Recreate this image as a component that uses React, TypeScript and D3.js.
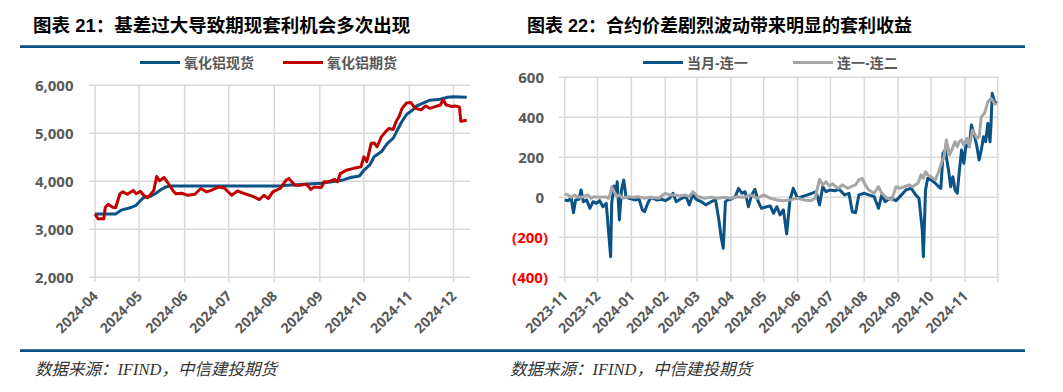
import React from "react"
import * as d3 from "d3"

// 图表21：氧化铝现货 / 期货
const spotDates = ["2024-04-01","2024-04-15","2024-04-19","2024-04-26","2024-04-29","2024-05-02","2024-05-04","2024-05-09","2024-05-12","2024-05-16","2024-05-19","2024-05-22","2024-08-06","2024-08-10","2024-09-02","2024-09-16","2024-09-22","2024-09-28","2024-10-01","2024-10-05","2024-10-08","2024-10-13","2024-10-17","2024-10-21","2024-10-24","2024-10-27","2024-10-30","2024-11-03","2024-11-06","2024-11-11","2024-11-15","2024-11-22","2024-11-27","2024-12-01","2024-12-10"]
const spotValues = [3320,3320,3400,3460,3500,3600,3660,3690,3740,3830,3880,3900,3900,3920,3960,4020,4080,4110,4230,4340,4510,4620,4790,4900,5080,5250,5390,5480,5570,5640,5690,5710,5750,5760,5750]

const futDates = ["2024-04-01","2024-04-03","2024-04-07","2024-04-08","2024-04-10","2024-04-13","2024-04-15","2024-04-18","2024-04-20","2024-04-23","2024-04-27","2024-04-29","2024-05-02","2024-05-04","2024-05-07","2024-05-11","2024-05-13","2024-05-15","2024-05-18","2024-05-21","2024-05-24","2024-05-26","2024-05-30","2024-06-03","2024-06-08","2024-06-12","2024-06-16","2024-06-19","2024-06-24","2024-06-28","2024-07-03","2024-07-07","2024-07-12","2024-07-17","2024-07-22","2024-07-25","2024-07-28","2024-07-31","2024-08-05","2024-08-09","2024-08-11","2024-08-15","2024-08-19","2024-08-23","2024-08-26","2024-08-28","2024-09-02","2024-09-04","2024-09-07","2024-09-11","2024-09-13","2024-09-15","2024-09-19","2024-09-24","2024-09-29","2024-10-01","2024-10-03","2024-10-06","2024-10-08","2024-10-10","2024-10-13","2024-10-16","2024-10-18","2024-10-21","2024-10-23","2024-10-25","2024-10-27","2024-10-30","2024-11-02","2024-11-05","2024-11-09","2024-11-12","2024-11-15","2024-11-19","2024-11-22","2024-11-24","2024-11-26","2024-11-30","2024-12-02","2024-12-05","2024-12-06","2024-12-10"]
const futValues = [3320,3220,3220,3460,3520,3460,3450,3740,3780,3730,3810,3740,3790,3710,3660,3810,4100,4010,4080,3950,3810,3740,3750,3710,3730,3850,3780,3810,3880,3860,3710,3800,3740,3690,3620,3710,3640,3780,3850,4020,4060,3920,3920,3940,3830,3880,3870,3990,3990,4040,3990,4160,4230,4270,4300,4510,4410,4790,4800,4720,4930,5040,5100,5080,5250,5350,5520,5630,5640,5520,5490,5570,5520,5560,5590,5700,5590,5560,5570,5550,5250,5270]

const leftMonths = ["2024-04","2024-05","2024-06","2024-07","2024-08","2024-09","2024-10","2024-11","2024-12"]
const leftTicks = [2000,3000,4000,5000,6000]

// 图表22：当月-连一 / 连一-连二
const aDates = ["2023-11-01","2023-11-04","2023-11-07","2023-11-09","2023-11-11","2023-11-14","2023-11-16","2023-11-18","2023-11-21","2023-11-24","2023-11-27","2023-11-30","2023-12-03","2023-12-06","2023-12-09","2023-12-11","2023-12-13","2023-12-14","2023-12-16","2023-12-18","2023-12-19","2023-12-21","2023-12-23","2023-12-25","2023-12-27","2023-12-30","2024-01-04","2024-01-08","2024-01-11","2024-01-13","2024-01-16","2024-01-19","2024-01-24","2024-01-29","2024-02-01","2024-02-05","2024-02-08","2024-02-11","2024-02-16","2024-02-20","2024-02-23","2024-02-26","2024-03-01","2024-03-05","2024-03-09","2024-03-14","2024-03-18","2024-03-21","2024-03-23","2024-03-25","2024-03-27","2024-03-29","2024-04-01","2024-04-05","2024-04-08","2024-04-11","2024-04-14","2024-04-17","2024-04-20","2024-04-23","2024-04-26","2024-04-29","2024-05-02","2024-05-07","2024-05-10","2024-05-13","2024-05-16","2024-05-19","2024-05-22","2024-05-25","2024-05-28","2024-06-01","2024-06-05","2024-06-10","2024-06-14","2024-06-18","2024-06-21","2024-06-24","2024-06-27","2024-07-01","2024-07-05","2024-07-09","2024-07-14","2024-07-18","2024-07-21","2024-07-24","2024-07-27","2024-08-01","2024-08-05","2024-08-10","2024-08-14","2024-08-17","2024-08-20","2024-08-25","2024-08-30","2024-09-04","2024-09-08","2024-09-13","2024-09-17","2024-09-20","2024-09-23","2024-09-24","2024-09-26","2024-09-28","2024-10-01","2024-10-05","2024-10-08","2024-10-10","2024-10-12","2024-10-14","2024-10-17","2024-10-19","2024-10-21","2024-10-23","2024-10-25","2024-10-27","2024-10-29","2024-10-31","2024-11-02","2024-11-05","2024-11-07","2024-11-10","2024-11-12","2024-11-14","2024-11-16","2024-11-18","2024-11-20","2024-11-22","2024-11-24","2024-11-25","2024-11-26","2024-11-28","2024-11-30"]
const aValues = [-13,-17,-5,-77,-13,-10,37,-22,-13,-55,-22,-30,-17,-47,-30,-163,-297,-30,57,12,78,-113,37,87,3,-5,-13,-10,-63,-72,-30,0,-13,-10,-17,-5,20,-22,-5,3,-38,12,-13,-22,-38,-22,-13,-113,-197,-255,-22,-13,-10,3,45,20,28,-47,12,40,-22,-55,-50,-43,-80,-47,-88,-63,-183,-13,45,-5,3,12,20,28,-38,53,28,37,33,40,12,20,-72,-77,12,20,12,3,-55,12,-22,-5,-17,12,37,45,12,-5,-163,-297,37,95,87,70,53,45,220,237,137,53,103,37,20,137,237,170,262,253,362,303,253,187,237,303,278,370,278,378,520,478,470]

const bDates = ["2023-11-01","2023-11-04","2023-11-07","2023-11-10","2023-11-13","2023-11-18","2023-11-22","2023-11-25","2023-11-28","2023-12-03","2023-12-08","2023-12-11","2023-12-13","2023-12-14","2023-12-17","2023-12-19","2023-12-21","2023-12-24","2023-12-29","2024-01-03","2024-01-07","2024-01-13","2024-01-19","2024-01-26","2024-02-01","2024-02-05","2024-02-10","2024-02-14","2024-02-19","2024-02-23","2024-02-26","2024-03-02","2024-03-08","2024-03-14","2024-03-20","2024-03-26","2024-04-01","2024-04-07","2024-04-13","2024-04-19","2024-04-25","2024-05-01","2024-05-07","2024-05-13","2024-05-19","2024-05-25","2024-06-01","2024-06-07","2024-06-13","2024-06-17","2024-06-21","2024-06-24","2024-06-27","2024-06-30","2024-07-03","2024-07-08","2024-07-12","2024-07-17","2024-07-20","2024-07-24","2024-07-27","2024-07-30","2024-08-02","2024-08-05","2024-08-10","2024-08-14","2024-08-17","2024-08-22","2024-08-26","2024-08-30","2024-09-02","2024-09-07","2024-09-11","2024-09-14","2024-09-19","2024-09-22","2024-09-24","2024-09-26","2024-09-28","2024-10-01","2024-10-05","2024-10-08","2024-10-11","2024-10-13","2024-10-15","2024-10-18","2024-10-20","2024-10-23","2024-10-25","2024-10-27","2024-10-29","2024-10-31","2024-11-03","2024-11-05","2024-11-08","2024-11-12","2024-11-14","2024-11-16","2024-11-19","2024-11-22","2024-11-25","2024-11-28","2024-11-30"]
const bValues = [17,12,0,12,0,3,12,-5,3,0,3,-5,20,53,20,3,12,-5,3,0,3,-5,0,-5,20,12,12,7,12,3,28,3,-5,0,-5,0,-5,3,0,12,-5,12,-5,-13,-17,-13,-5,-13,-17,-5,90,62,78,57,67,45,62,45,53,62,87,95,62,37,20,53,20,-5,-13,53,45,53,62,53,70,112,95,128,112,103,87,128,178,203,287,212,237,278,253,278,287,262,295,253,337,295,303,403,420,478,495,470,462]

const rightMonths = ["2023-11","2023-12","2024-01","2024-02","2024-03","2024-04","2024-05","2024-06","2024-07","2024-08","2024-09","2024-10","2024-11"]
const rightTicks = [-400,-200,0,200,400,600]

const BLUE = "#0B5286"
const RED = "#C00000"
const GRAY = "#A6A6A6"
const GRID = "#D9D9D9"
const TEXT = "#595959"
const NUM_FONT = "'Open Sans', 'Noto Sans CJK SC', sans-serif"
const CJK_FONT = "'Liberation Sans', 'Noto Sans CJK SC', sans-serif"
const SRC_FONT = "'Liberation Serif', 'Noto Sans CJK SC', serif"

const parse = d3.timeParse("%Y-%m-%d")
const parseMonth = d3.timeParse("%Y-%m")

type Pt = { d: Date; v: number }
const zip = (ds: string[], vs: number[]): Pt[] => ds.map((s, i) => ({ d: parse(s) as Date, v: vs[i] }))

function Legend({ items }: { items: { x: number; color: string; label: string }[] }) {
  return (
    <g>
      {items.map(it => (
        <g key={it.label}>
          <line x1={it.x} x2={it.x + 40} y1={62.5} y2={62.5} stroke={it.color} strokeWidth={3} />
          <text x={it.x + 44} y={62.5} dy="0.36em" fontSize={14} fontWeight="bold" fill={TEXT} fontFamily={CJK_FONT}>{it.label}</text>
        </g>
      ))}
    </g>
  )
}

function LeftChart() {
  const x = d3.scaleTime().domain([parse("2024-04-01") as Date, parse("2024-12-01") as Date]).range([95, 453.5])
  const y = d3.scaleLinear().domain([2000, 6000]).range([277.3, 85.3])
  const line = d3.line<Pt>().x(p => x(p.d)).y(p => y(p.v))
  const spot = zip(spotDates, spotValues)
  const fut = zip(futDates, futValues)
  return (
    <g>
      {leftTicks.map(t => (
        <g key={t}>
          <line x1={89} x2={470} y1={y(t)} y2={y(t)} stroke={GRID} strokeWidth={1.5} />
          <text x={73.5} y={y(t)} dy="0.36em" textAnchor="end" fontSize={15} fontWeight="bold" fill={TEXT} fontFamily={NUM_FONT}>{d3.format(",")(t)}</text>
        </g>
      ))}
      {leftMonths.map(m => {
        const xx = x(parseMonth(m) as Date)
        return (
          <g key={m}>
            <line x1={xx} x2={xx} y1={85.3} y2={282} stroke={GRID} strokeWidth={1.5} />
            <text transform={`translate(${xx + 4},${297}) rotate(-45)`} textAnchor="end" fontSize={14} fontWeight="bold" fill={TEXT} fontFamily={NUM_FONT}>{m}</text>
          </g>
        )
      })}
      <path d={line(spot) || ""} fill="none" stroke={BLUE} strokeWidth={3} strokeLinejoin="round" />
      <path d={line(fut) || ""} fill="none" stroke={RED} strokeWidth={3} strokeLinejoin="round" />
      <Legend items={[{ x: 140, color: BLUE, label: "氧化铝现货" }, { x: 283, color: RED, label: "氧化铝期货" }]} />
    </g>
  )
}

function RightChart() {
  const x = d3.scaleTime().domain([parse("2023-11-01") as Date, parse("2024-12-01") as Date]).range([564.7, 997.7])
  const y = d3.scaleLinear().domain([-400, 600]).range([277.3, 77.3])
  const line = d3.line<Pt>().x(p => x(p.d)).y(p => y(p.v))
  const a = zip(aDates, aValues)
  const b = zip(bDates, bValues)
  const fmt = (t: number) => (t < 0 ? `(${d3.format(",")(-t)})` : d3.format(",")(t))
  return (
    <g>
      {rightTicks.map(t => (
        <g key={t}>
          <line x1={559} x2={998.5} y1={y(t)} y2={y(t)} stroke={GRID} strokeWidth={1.5} />
          <text x={t < 0 ? 548 : 544} y={y(t)} dy="0.36em" textAnchor="end" fontSize={15} fontWeight="bold" fill={t < 0 ? "#FF0000" : TEXT} fontFamily={NUM_FONT}>{fmt(t)}</text>
        </g>
      ))}
      {[...rightMonths, "2024-12"].map(m => {
        const xx = x(parseMonth(m) as Date)
        return <line key={m} x1={xx} x2={xx} y1={77.3} y2={282} stroke={GRID} strokeWidth={1.5} />
      })}
      {rightMonths.map(m => {
        const xx = x(parseMonth(m) as Date)
        return <text key={m} transform={`translate(${xx + 4},${297}) rotate(-45)`} textAnchor="end" fontSize={14} fontWeight="bold" fill={TEXT} fontFamily={NUM_FONT}>{m}</text>
      })}
      <path d={line(a) || ""} fill="none" stroke={BLUE} strokeWidth={3} strokeLinejoin="round" />
      <path d={line(b) || ""} fill="none" stroke={GRAY} strokeWidth={3} strokeLinejoin="round" />
      <Legend items={[{ x: 643, color: BLUE, label: "当月-连一" }, { x: 793, color: GRAY, label: "连一-连二" }]} />
    </g>
  )
}

export default function App() {
  return (
    <svg width={1063} height={392} style={{ position: "absolute", left: 0, top: 0, background: "#fff" }}>
      <text x={33} y={31.5} fontSize={18.5} fontWeight="bold" fill="#000" fontFamily={CJK_FONT}>图表 21：基差过大导致期现套利机会多次出现</text>
      <text x={527} y={31.5} fontSize={18} fontWeight="bold" fill="#000" fontFamily={CJK_FONT}>图表 22：合约价差剧烈波动带来明显的套利收益</text>
      <line x1={20} x2={1025} y1={46.7} y2={46.7} stroke="#0A5083" strokeWidth={2.8} />
      <line x1={20} x2={1025} y1={350.7} y2={350.7} stroke="#0A5083" strokeWidth={2.8} />
      <LeftChart />
      <RightChart />
      <text x={35} y={375} fontSize={16.5} fontStyle="italic" fill="#333" fontFamily={SRC_FONT}>数据来源：IFIND，中信建投期货</text>
      <text x={510} y={375} fontSize={16.5} fontStyle="italic" fill="#333" fontFamily={SRC_FONT}>数据来源：IFIND，中信建投期货</text>
    </svg>
  )
}
